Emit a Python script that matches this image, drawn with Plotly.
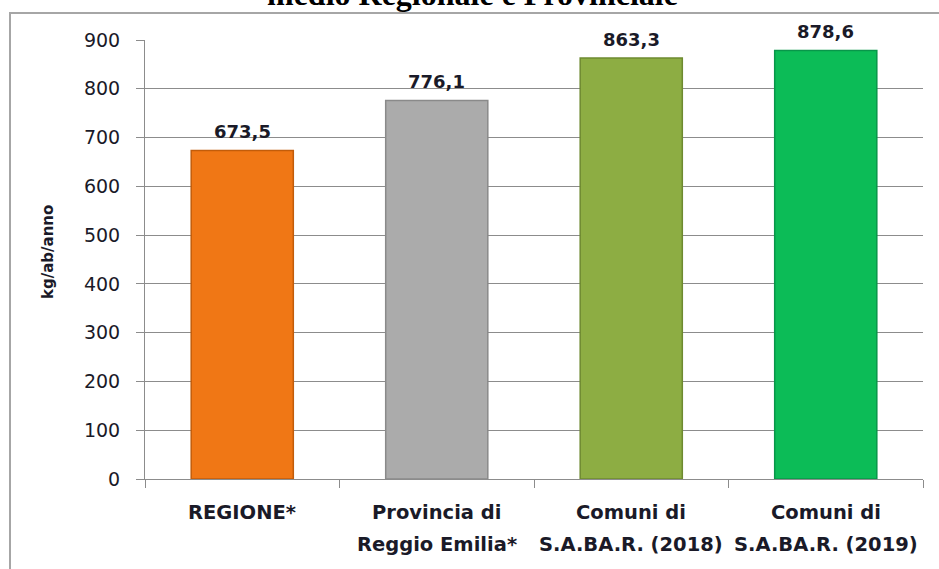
import plotly.graph_objects as go

categories = ["REGIONE*", "Provincia di\nReggio Emilia*", "Comuni di\nS.A.BA.R. (2018)", "Comuni di\nS.A.BA.R. (2019)"]
values = [673.5, 776.1, 863.3, 878.6]
value_labels = ["673,5", "776,1", "863,3", "878,6"]
bar_colors = ["#F07715", "#ABABAB", "#8DAD43", "#0CBC57"]
edge_colors = ["#C25C0A", "#8A8A8A", "#6E8A30", "#08964A"]
y_ticks = [0, 100, 200, 300, 400, 500, 600, 700, 800, 900]
title_text = "medio Regionale e Provinciale"
y_title = "kg/ab/anno"

W, H = 939, 569
L, R, T, B = 145, 16, 40, 90
pw, ph = W - L - R, H - T - B

def px_x(p):
    return (p - L) / pw

def px_y(p):
    return (H - B - p) / ph

font_fam = "DejaVu Sans"
txt_col = "#1a1a28"

fig = go.Figure()
fig.add_trace(go.Bar(
    x=categories, y=values,
    marker=dict(color=bar_colors, line=dict(color=edge_colors, width=1.5)),
    cliponaxis=False,
))

annotations = []
for c, v, lab in zip(categories, values, value_labels):
    annotations.append(dict(
        x=c, xref="x", y=v, yref="y", text=lab, showarrow=False,
        xanchor="center", yanchor="bottom", yshift=6,
        font=dict(family=font_fam, size=18, color=txt_col, weight="bold"),
    ))
for c in categories:
    lines = c.split("\n")
    ys = [-0.0752, -0.150]
    for i, ln in enumerate(lines):
        annotations.append(dict(
            x=c, xref="x", y=ys[i], yref="paper", text=ln, showarrow=False,
            xanchor="center", yanchor="middle",
            font=dict(family=font_fam, size=19.5, color=txt_col, weight="bold"),
        ))

annotations.append(dict(
    x=px_x(48), y=px_y(252), xref="paper", yref="paper", text=y_title,
    textangle=-90, showarrow=False, xanchor="center", yanchor="middle",
    font=dict(family=font_fam, size=15, color=txt_col, weight="bold"),
))
annotations.append(dict(
    x=px_x(472), y=px_y(-6), xref="paper", yref="paper", text=title_text,
    showarrow=False, xanchor="center", yanchor="middle",
    font=dict(family="Liberation Serif", size=32, color="#000000", weight="bold"),
))

fig.update_layout(
    width=W, height=H,
    margin=dict(l=L, r=R, t=T, b=B),
    paper_bgcolor="white", plot_bgcolor="white",
    bargap=0.475,
    showlegend=False,
    annotations=annotations,
    shapes=[dict(
        type="rect", xref="paper", yref="paper",
        x0=px_x(10), x1=px_x(948), y0=px_y(580), y1=px_y(13),
        line=dict(color="#A6A6A6", width=2), layer="below",
    )],
)
fig.update_xaxes(
    showticklabels=False, showline=True, linecolor="#8C8C8C", linewidth=1,
    ticks="outside", ticklen=8, tickcolor="#8C8C8C", tickson="boundaries",
    showgrid=False,
)
fig.update_yaxes(
    range=[0, 900], tickvals=y_ticks, showline=True, linecolor="#8C8C8C", linewidth=1,
    ticks="outside", ticklen=8, tickcolor="#8C8C8C",
    showgrid=True, gridcolor="#8C8C8C", gridwidth=1, zeroline=False,
    tickfont=dict(family=font_fam, size=19, color=txt_col),
    ticklabelstandoff=12,
)

fig.write_html(
    "out.html",
    config={"displayModeBar": False},
    post_script="document.body.style.margin='0';document.body.style.overflow='hidden';",
)
